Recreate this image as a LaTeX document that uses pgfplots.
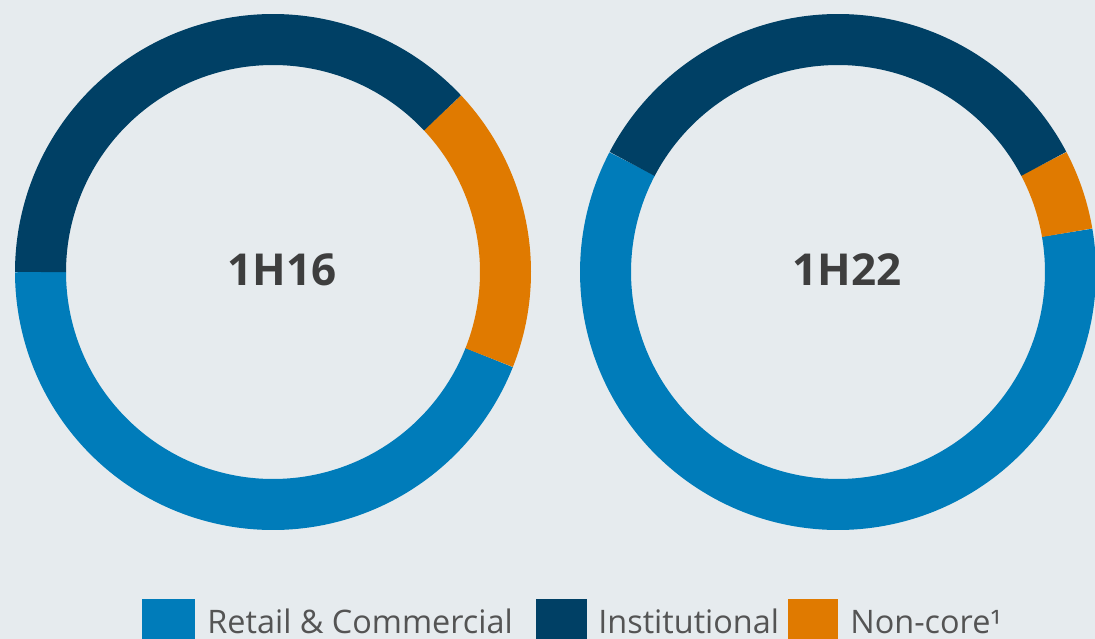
\documentclass[border=0pt]{standalone}
\usepackage{fontspec}
\setmainfont{Open Sans}
\usepackage{pgfplots}
\pgfplotsset{compat=1.18}
\usepgfplotslibrary{polar}
\usepackage{pgfplotstable}

\definecolor{bg}{RGB}{230,235,238}
\definecolor{retail}{RGB}{0,124,186}
\definecolor{inst}{RGB}{0,64,101}
\definecolor{noncore}{RGB}{224,122,0}
\definecolor{lbl}{RGB}{62,62,62}
\definecolor{legtext}{RGB}{84,84,84}

% share of each segment (%) and the angle where the Retail segment starts
\pgfplotstableread{
period start retail noncore institutional
1H16 180 44 18 38
1H22 152.3 60.4 5.0 34.6
}\shares

\pgfplotsset{
  ring/.style={line width=25.5pt, line cap=butt, line join=round, samples=150, no markers},
  donut/.style={hide axis, scale only axis, width=258pt, height=258pt,
    ymin=0, ymax=258, xmin=0, xmax=360, clip=false, anchor=origin},
}

\begin{document}
\begin{tikzpicture}
\useasboundingbox (0,0) rectangle (547.5pt,319pt);
\fill[bg] (-5pt,-20pt) rectangle (552.5pt,325pt);

\pgfplotstablegetelem{0}{start}\of\shares \pgfmathsetmacro\aS{\pgfplotsretval}
\pgfplotstablegetelem{0}{retail}\of\shares \pgfmathsetmacro\aR{\aS+3.6*\pgfplotsretval}
\pgfplotstablegetelem{0}{noncore}\of\shares \pgfmathsetmacro\aN{\aR+3.6*\pgfplotsretval}
\pgfplotstablegetelem{0}{institutional}\of\shares \pgfmathsetmacro\aI{\aN+3.6*\pgfplotsretval}
\pgfplotstablegetelem{1}{start}\of\shares \pgfmathsetmacro\bS{\pgfplotsretval}
\pgfplotstablegetelem{1}{retail}\of\shares \pgfmathsetmacro\bR{\bS+3.6*\pgfplotsretval}
\pgfplotstablegetelem{1}{noncore}\of\shares \pgfmathsetmacro\bN{\bR+3.6*\pgfplotsretval}
\pgfplotstablegetelem{1}{institutional}\of\shares \pgfmathsetmacro\bI{\bN+3.6*\pgfplotsretval}

\begin{polaraxis}[donut, at={(136.5pt,183pt)}]
  \addplot[ring, retail, domain=\aS:\aR] {232.5};
  \addplot[ring, noncore, domain=\aR:\aN] {232.5};
  \addplot[ring, inst, domain=\aN:\aI] {232.5};
  \node[font=\bfseries\fontsize{22}{22}\selectfont, text=lbl, inner sep=0,
        xshift=4.5pt, yshift=1.25pt] at (axis cs:0,0) {1H16};
\end{polaraxis}

\begin{polaraxis}[donut, at={(419pt,183pt)}]
  \addplot[ring, retail, domain=\bS:\bR] {232.5};
  \addplot[ring, noncore, domain=\bR:\bN] {232.5};
  \addplot[ring, inst, domain=\bN:\bI] {232.5};
  \node[font=\bfseries\fontsize{22}{22}\selectfont, text=lbl, inner sep=0,
        xshift=4.5pt, yshift=1.25pt] at (axis cs:0,0) {1H22};
\end{polaraxis}

% legend
\fill[retail] (71pt,19.5pt) rectangle (97.5pt,-10pt);
\node[anchor=base west, inner sep=0, font=\fontsize{16.2}{16.2}\selectfont, text=legtext] at (103.5pt,2.5pt) {Retail \& Commercial};
\fill[inst] (268pt,19.5pt) rectangle (293.5pt,-10pt);
\node[anchor=base west, inner sep=0, font=\fontsize{16.2}{16.2}\selectfont, text=legtext] at (299pt,2.5pt) {Institutional};
\fill[noncore] (394pt,19.5pt) rectangle (419pt,-10pt);
\node[anchor=base west, inner sep=0, font=\fontsize{16.2}{16.2}\selectfont, text=legtext] at (425pt,2.5pt) {Non-core¹};
\end{tikzpicture}
\end{document}
